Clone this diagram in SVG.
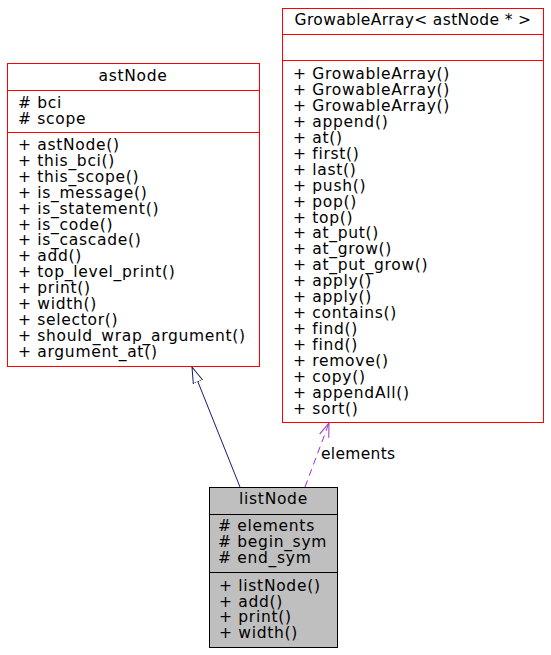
<svg xmlns="http://www.w3.org/2000/svg" width="551" height="655" viewBox="0 0 551 655">
<defs>
<style>
text{font-family:"DejaVu Sans","Liberation Sans",sans-serif;font-size:15.5px;letter-spacing:0.7px;fill:#000}
.t{text-anchor:middle}
.ga{letter-spacing:0.35px}
.lbl{letter-spacing:0.3px}
.box{fill:#fff;stroke:#ff0000;stroke-width:1}
.cur{fill:#bfbfbf;stroke:#000;stroke-width:1}
.sepr{stroke:#ff0000;stroke-width:1}
.sepk{stroke:#000;stroke-width:1}
.inh{stroke:#191970;stroke-width:1;fill:none}
.use{stroke:#9a32cd;stroke-width:1;fill:none;stroke-dasharray:7,5}
</style>
<marker id="tri" viewBox="0 0 16 12" refX="16" refY="6" markerWidth="16" markerHeight="12" markerUnits="userSpaceOnUse" orient="auto">
<path d="M0,1 L16,6 L0,11 Z" fill="#fff" stroke="#191970" stroke-width="1"/>
</marker>
<marker id="vee" viewBox="0 0 14 12" refX="14" refY="6" markerWidth="14" markerHeight="12" markerUnits="userSpaceOnUse" orient="auto">
<path d="M0,1 L14,6 L0,11" fill="none" stroke="#9a32cd" stroke-width="1"/>
</marker>
</defs>
<rect width="551" height="655" fill="#fff"/>
<g id="connectors">
<line class="inh" x1="240" y1="487" x2="192" y2="367" marker-end="url(#tri)"/>
<line class="use" x1="305" y1="487" x2="329" y2="423" marker-end="url(#vee)"/>
<text class="lbl" x="321" y="459">elements</text>
</g>
<g id="astNode">
<rect class="box" x="7.5" y="63.5" width="252" height="303"/>
<line class="sepr" x1="7.5" y1="90.5" x2="259.5" y2="90.5"/>
<line class="sepr" x1="7.5" y1="132.5" x2="259.5" y2="132.5"/>
<text class="t" x="133" y="81">astNode</text>
<text x="18" y="108"><tspan x="18">#&#160;bci</tspan><tspan x="18" dy="16">#&#160;scope</tspan></text>
<text x="18" y="150"><tspan x="18">+ astNode()</tspan><tspan x="18" dy="15.9">+ this_bci()</tspan><tspan x="18" dy="15.9">+ this_scope()</tspan><tspan x="18" dy="15.9">+ is_message()</tspan><tspan x="18" dy="15.9">+ is_statement()</tspan><tspan x="18" dy="15.9">+ is_code()</tspan><tspan x="18" dy="15.9">+ is_cascade()</tspan><tspan x="18" dy="15.9">+ add()</tspan><tspan x="18" dy="15.9">+ top_level_print()</tspan><tspan x="18" dy="15.9">+ print()</tspan><tspan x="18" dy="15.9">+ width()</tspan><tspan x="18" dy="15.9">+ selector()</tspan><tspan x="18" dy="15.9">+ should_wrap_argument()</tspan><tspan x="18" dy="15.9">+ argument_at()</tspan></text>
</g>
<g id="GrowableArray">
<rect class="box" x="282.5" y="8.5" width="261" height="414"/>
<line class="sepr" x1="282.5" y1="34.5" x2="543.5" y2="34.5"/>
<line class="sepr" x1="282.5" y1="60.5" x2="543.5" y2="60.5"/>
<text class="t ga" x="413" y="25">GrowableArray&lt; astNode * &gt;</text>
<text x="293" y="79"><tspan x="293">+ GrowableArray()</tspan><tspan x="293" dy="15.95">+ GrowableArray()</tspan><tspan x="293" dy="15.95">+ GrowableArray()</tspan><tspan x="293" dy="15.95">+ append()</tspan><tspan x="293" dy="15.95">+ at()</tspan><tspan x="293" dy="15.95">+ first()</tspan><tspan x="293" dy="15.95">+ last()</tspan><tspan x="293" dy="15.95">+ push()</tspan><tspan x="293" dy="15.95">+ pop()</tspan><tspan x="293" dy="15.95">+ top()</tspan><tspan x="293" dy="15.95">+ at_put()</tspan><tspan x="293" dy="15.95">+ at_grow()</tspan><tspan x="293" dy="15.95">+ at_put_grow()</tspan><tspan x="293" dy="15.95">+ apply()</tspan><tspan x="293" dy="15.95">+ apply()</tspan><tspan x="293" dy="15.95">+ contains()</tspan><tspan x="293" dy="15.95">+ find()</tspan><tspan x="293" dy="15.95">+ find()</tspan><tspan x="293" dy="15.95">+ remove()</tspan><tspan x="293" dy="15.95">+ copy()</tspan><tspan x="293" dy="15.95">+ appendAll()</tspan><tspan x="293" dy="15.95">+ sort()</tspan></text>
</g>
<g id="listNode">
<rect class="cur" x="209.5" y="487.5" width="128" height="160"/>
<line class="sepk" x1="209.5" y1="514.5" x2="337.5" y2="514.5"/>
<line class="sepk" x1="209.5" y1="572.5" x2="337.5" y2="572.5"/>
<text class="t" x="273.5" y="504">listNode</text>
<text x="218" y="531"><tspan x="218">#&#160;elements</tspan><tspan x="218" dy="16">#&#160;begin_sym</tspan><tspan x="218" dy="16">#&#160;end_sym</tspan></text>
<text x="219" y="591"><tspan x="219">+ listNode()</tspan><tspan x="219" dy="15.7">+ add()</tspan><tspan x="219" dy="15.7">+ print()</tspan><tspan x="219" dy="15.6">+ width()</tspan></text>
</g>
</svg>
